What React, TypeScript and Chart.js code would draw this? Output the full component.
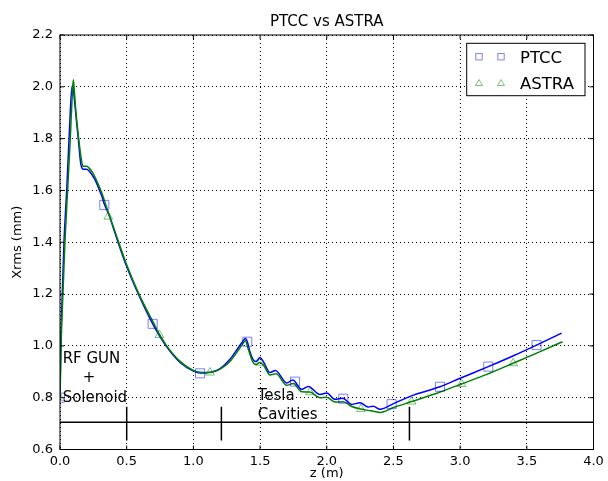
import React, { useEffect, useRef } from 'react';
import { Chart, registerables } from 'chart.js';

Chart.register(...registerables);

// ---- Data ----
const ptccZ = [0, 0.006, 0.017, 0.03, 0.05, 0.068, 0.082, 0.092, 0.1, 0.112, 0.125, 0.137, 0.155, 0.165, 0.175, 0.2, 0.215, 0.24, 0.262, 0.287, 0.312, 0.332, 0.375, 0.4, 0.435, 0.5, 0.587, 0.695, 0.795, 0.9, 1.0, 1.05, 1.1, 1.2, 1.274, 1.33, 1.37, 1.39, 1.405, 1.425, 1.449, 1.47, 1.5, 1.524, 1.574, 1.615, 1.7, 1.745, 1.812, 1.862, 1.949, 2.0, 2.062, 2.12, 2.187, 2.249, 2.311, 2.349, 2.4, 2.5, 2.649, 2.849, 3.0, 3.211, 3.4, 3.573, 3.761];
const ptccX = [0.8, 1.0, 1.2, 1.4, 1.6, 1.8, 1.95, 2.005, 1.99, 1.93, 1.86, 1.8, 1.705, 1.686, 1.682, 1.682, 1.677, 1.66, 1.642, 1.612, 1.58, 1.548, 1.495, 1.455, 1.4, 1.306, 1.2, 1.085, 1.0, 0.936, 0.903, 0.895, 0.896, 0.912, 0.948, 0.988, 1.017, 1.028, 1.015, 0.975, 0.946, 0.94, 0.955, 0.94, 0.897, 0.905, 0.857, 0.868, 0.832, 0.843, 0.812, 0.818, 0.794, 0.798, 0.774, 0.78, 0.764, 0.767, 0.755, 0.777, 0.81, 0.842, 0.875, 0.92, 0.962, 1.003, 1.049];

const astraZ = [0, 0.008, 0.022, 0.037, 0.057, 0.077, 0.092, 0.1, 0.108, 0.12, 0.14, 0.16, 0.172, 0.2, 0.215, 0.24, 0.262, 0.29, 0.315, 0.34, 0.362, 0.4, 0.44, 0.505, 0.592, 0.705, 0.745, 0.8, 0.9, 1.0, 1.05, 1.124, 1.2, 1.274, 1.33, 1.37, 1.39, 1.41, 1.449, 1.47, 1.5, 1.53, 1.574, 1.62, 1.7, 1.749, 1.812, 1.874, 1.949, 2.0, 2.062, 2.124, 2.187, 2.256, 2.311, 2.35, 2.4, 2.5, 2.636, 2.85, 3.011, 3.2, 3.398, 3.6, 3.768];
const astraX = [0.8, 1.0, 1.2, 1.4, 1.6, 1.8, 1.97, 2.027, 1.98, 1.9, 1.8, 1.72, 1.693, 1.693, 1.688, 1.672, 1.652, 1.62, 1.588, 1.55, 1.515, 1.46, 1.4, 1.306, 1.2, 1.085, 1.045, 1.0, 0.94, 0.905, 0.898, 0.897, 0.91, 0.94, 0.978, 1.008, 1.02, 0.99, 0.935, 0.928, 0.936, 0.922, 0.888, 0.892, 0.848, 0.855, 0.823, 0.822, 0.8, 0.802, 0.783, 0.784, 0.766, 0.756, 0.751, 0.748, 0.743, 0.762, 0.785, 0.822, 0.853, 0.89, 0.933, 0.978, 1.016];

const ptccMarkZ = [0, 0.332, 0.695, 1.05, 1.404, 1.762, 2.124, 2.486, 2.849, 3.211, 3.573];
const ptccMarkX = [0.8, 1.544, 1.085, 0.894, 1.016, 0.862, 0.796, 0.775, 0.842, 0.92, 1.003];
const astraMarkZ = [0, 0.362, 0.745, 1.124, 1.5, 1.874, 2.256, 2.636, 3.011, 3.398];
const astraMarkX = [0.8, 1.499, 1.042, 0.897, 0.935, 0.821, 0.756, 0.785, 0.853, 0.933];

// beam-line sketch: horizontal line and section boundaries
const beamLineZ = [0, 4];
const beamLineX = [0.705, 0.705];
const sectionZ = [0.5, 1.21, 2.62];
const sectionLowX = 0.635;
const sectionHighX = 0.765;

// annotations (data coordinates)
const annoText = ['RF GUN', '+', 'Solenoid', 'Tesla', 'Cavities'];
const annoZ = [0.02, 0.217, 0.02, 1.482, 1.482];
const annoX = [0.933, 0.859, 0.785, 0.791, 0.719];
const annoAlign: CanvasTextAlign[] = ['left', 'center', 'left', 'left', 'left'];

const xTickVals = [0, 0.5, 1.0, 1.5, 2.0, 2.5, 3.0, 3.5, 4.0];
const yTickVals = [0.6, 0.8, 1.0, 1.2, 1.4, 1.6, 1.8, 2.0, 2.2];

const titleText = 'PTCC vs ASTRA';
const xLabel = 'z (m)';
const yLabel = 'Xrms (mm)';
const legendLabels = ['PTCC', 'ASTRA'];

const FONT = 'DejaVu Sans';
const BLUE = '#0000ff';
const GREEN = '#008000';
const BLUE_MK = 'rgba(0,0,255,0.5)';
const GREEN_MK = 'rgba(0,128,0,0.5)';

const pts = (xs: number[], ys: number[]) => xs.map((x, i) => ({ x, y: ys[i] }));

const decorPlugin = {
  id: 'decor',
  afterDatasetsDraw(chart: any) {
    const { ctx, scales } = chart;
    const x = scales.x, y = scales.y;
    ctx.save();
    ctx.fillStyle = '#000';
    ctx.font = `15px "${FONT}"`;
    ctx.textBaseline = 'alphabetic';
    annoText.forEach((t, i) => {
      ctx.textAlign = annoAlign[i];
      ctx.fillText(t, x.getPixelForValue(annoZ[i]), y.getPixelForValue(annoX[i]));
    });
    ctx.restore();
  },
  afterDraw(chart: any) {
    const { ctx, chartArea, scales } = chart;
    const { left, right, top, bottom } = chartArea;
    const x = scales.x, y = scales.y;
    ctx.save();
    ctx.strokeStyle = '#000';
    ctx.lineWidth = 1;
    const line = (x1: number, y1: number, x2: number, y2: number) => {
      ctx.beginPath(); ctx.moveTo(x1, y1); ctx.lineTo(x2, y2); ctx.stroke();
    };
    xTickVals.forEach(v => {
      const px = x.getPixelForValue(v);
      line(px, bottom, px, bottom - 4);
      line(px, top, px, top + 4);
    });
    yTickVals.forEach(v => {
      const py = y.getPixelForValue(v);
      line(left, py, left + 4, py);
      line(right, py, right - 4, py);
    });
    ctx.strokeRect(left, top, right - left, bottom - top);

    // title
    ctx.fillStyle = '#000';
    ctx.font = `15px "${FONT}"`;
    ctx.textAlign = 'center';
    ctx.textBaseline = 'alphabetic';
    ctx.fillText(titleText, (left + right) / 2, 26);

    // legend
    const bw = 118.3, bh = 52.4;
    const bx = right - 8.5 - bw, by = top + 8.3;
    ctx.fillStyle = '#fff';
    ctx.fillRect(bx, by, bw, bh);
    ctx.strokeStyle = '#000';
    ctx.strokeRect(bx, by, bw, bh);
    const rows = [by + 13.4, by + 39.4];
    const mx = [bx + 12.3, bx + 34.3];
    ctx.lineWidth = 1;
    // squares
    ctx.strokeStyle = BLUE_MK;
    mx.forEach(cx => ctx.strokeRect(cx - 3.2, rows[0] - 3.2, 6.4, 6.4));
    // triangles
    ctx.strokeStyle = GREEN_MK;
    mx.forEach(cx => {
      const r = 4;
      const cy = rows[1] + 0.8;
      ctx.beginPath();
      ctx.moveTo(cx, cy - r);
      ctx.lineTo(cx + r * 0.866, cy + r * 0.5);
      ctx.lineTo(cx - r * 0.866, cy + r * 0.5);
      ctx.closePath();
      ctx.stroke();
    });
    ctx.fillStyle = '#000';
    ctx.font = `16.5px "${FONT}"`;
    ctx.textAlign = 'left';
    ctx.textBaseline = 'alphabetic';
    ctx.fillText(legendLabels[0], bx + 53.3, rows[0] + 6.4);
    ctx.fillText(legendLabels[1], bx + 53.3, rows[1] + 6.0);
    ctx.restore();
  },
};

export default function App() {
  const ref = useRef<HTMLCanvasElement | null>(null);
  useEffect(() => {
    if (!ref.current) return;
    Chart.defaults.font.family = FONT;
    Chart.defaults.color = '#000';
    const lineDs = (data: any[], color: string, order: number, width = 1.5) => ({
      data, showLine: true, borderColor: color, backgroundColor: color, borderWidth: width,
      pointRadius: 0, pointHoverRadius: 0, order, tension: 0, fill: false,
    });
    const datasets: any[] = [
      {
        data: pts(ptccMarkZ, ptccMarkX), showLine: false, pointStyle: 'rect', pointRadius: 6.4,
        pointBorderColor: BLUE_MK, pointBackgroundColor: 'rgba(0,0,0,0)', pointBorderWidth: 1, order: 0,
      },
      {
        data: pts(astraMarkZ, astraMarkX), showLine: false, pointStyle: 'triangle', pointRadius: 5,
        pointBorderColor: GREEN_MK, pointBackgroundColor: 'rgba(0,0,0,0)', pointBorderWidth: 1, order: 1,
      },
      { ...lineDs(pts(astraZ, astraX), GREEN, 2), cubicInterpolationMode: 'monotone' },
      { ...lineDs(pts(ptccZ, ptccX), BLUE, 3), cubicInterpolationMode: 'monotone' },
      lineDs(pts(beamLineZ, beamLineX), '#000', 4, 1.5),
      ...sectionZ.map(z => lineDs([{ x: z, y: sectionLowX }, { x: z, y: sectionHighX }], '#000', 4, 1.5)),
    ];
    const chart = new Chart(ref.current, {
      type: 'scatter',
      data: { datasets },
      options: {
        responsive: false,
        animation: false,
        events: [],
        layout: { padding: { top: 35, right: 14.5, left: 0, bottom: 0 } },
        plugins: { legend: { display: false }, tooltip: { enabled: false }, title: { display: false } },
        scales: {
          x: {
            type: 'linear', min: 0, max: 4,
            afterFit: (s: any) => { s.height = 31.5; },
            ticks: {
              stepSize: 0.5, maxRotation: 0, padding: 4, color: '#000',
              font: { size: 13, family: FONT },
              callback: (v: any) => Number(v).toFixed(1),
            },
            grid: { color: '#000', lineWidth: 1, drawTicks: false, borderDash: [1, 3] },
            border: { display: false, dash: [1, 3] },
            title: { display: true, text: xLabel, color: '#000', font: { size: 13, family: FONT }, padding: { top: 0, bottom: 0 } },
          },
          y: {
            type: 'linear', min: 0.6, max: 2.2,
            afterFit: (s: any) => { s.width = 60; },
            ticks: {
              stepSize: 0.2, padding: 7, color: '#000',
              font: { size: 13, family: FONT },
              callback: (v: any) => Number(v).toFixed(1),
            },
            grid: { color: '#000', lineWidth: 1, drawTicks: false, borderDash: [1, 3] },
            border: { display: false, dash: [1, 3] },
            title: { display: true, text: yLabel, color: '#000', font: { size: 13, family: FONT }, padding: { top: 10, bottom: 0 } },
          },
        },
      } as any,
      plugins: [decorPlugin],
    });
    return () => chart.destroy();
  }, []);
  return (
    <div style={{ position: 'fixed', left: 0, top: 0, width: 608, height: 481, background: '#fff' }}>
      <canvas ref={ref} width={608} height={481} style={{ width: 608, height: 481, display: 'block' }} />
    </div>
  );
}
